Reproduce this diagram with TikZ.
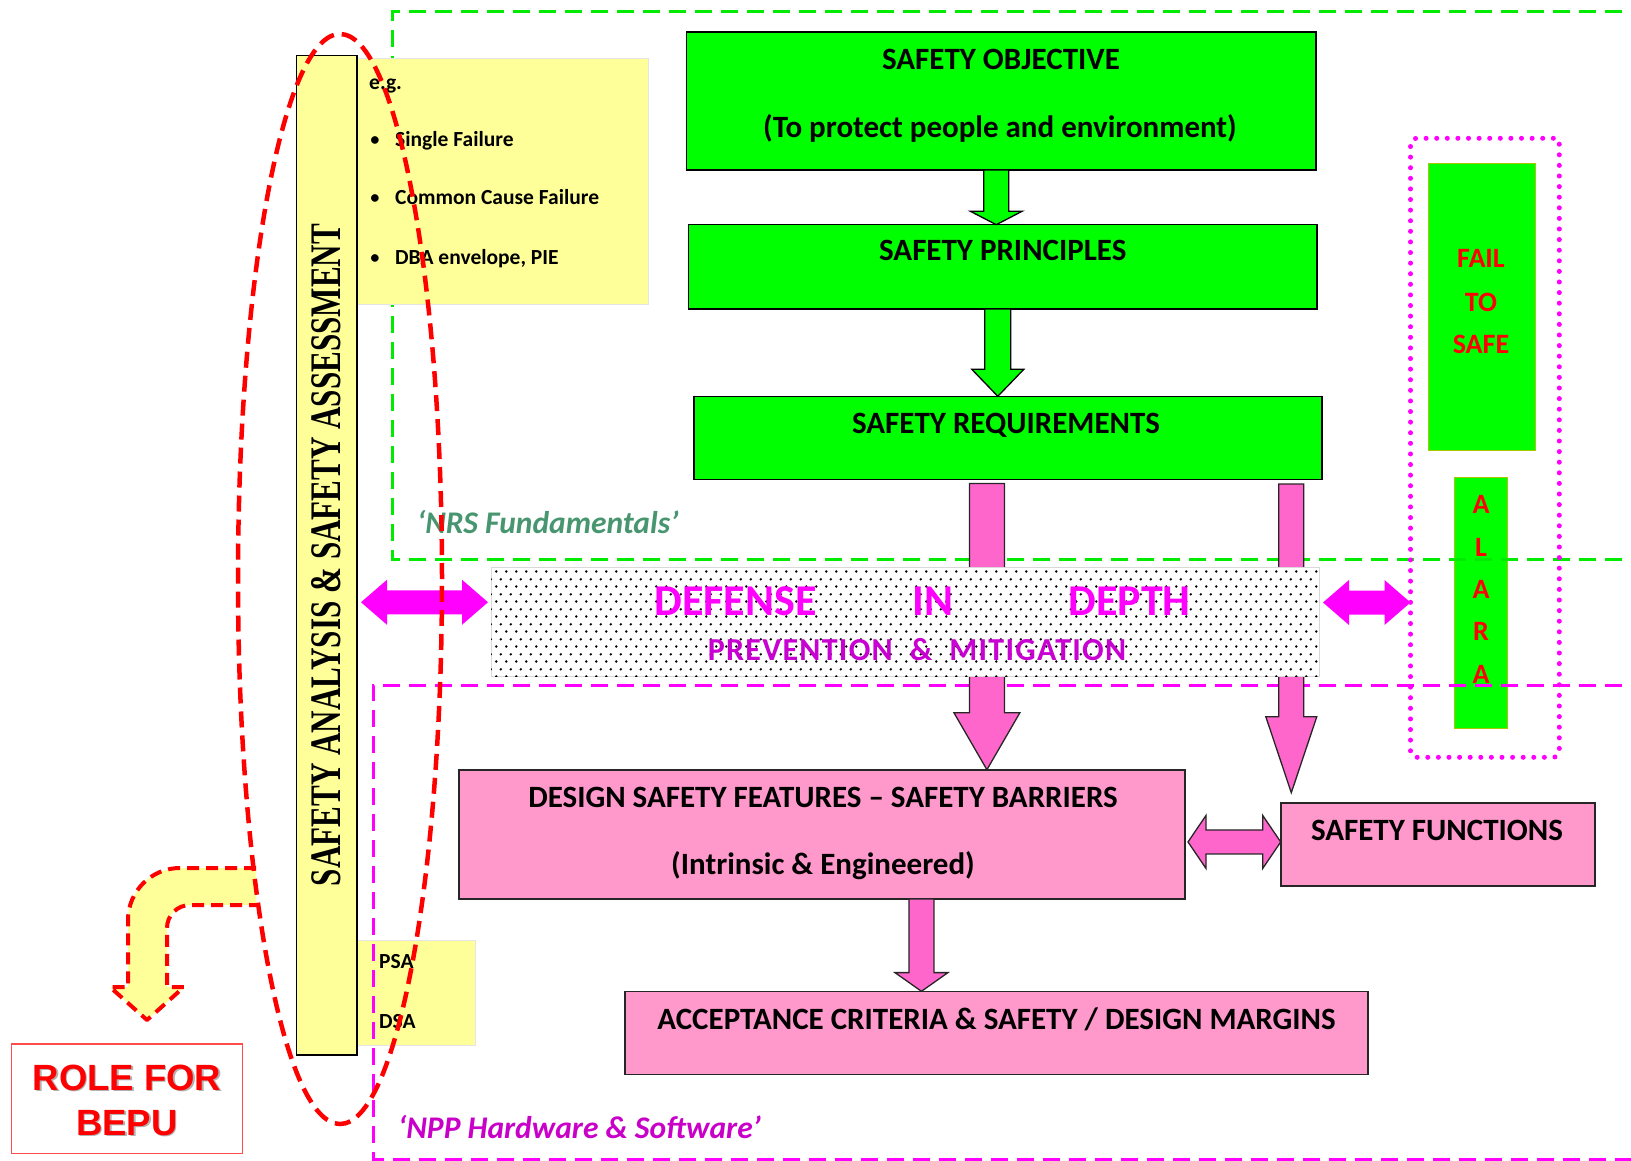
\documentclass[tikz,border=0pt]{standalone}
\usepackage{graphicx}
\usepackage{fontspec}
\setmainfont{Carlito}
\newfontfamily\timesf{Liberation Serif}
\newfontfamily\arialf{Liberation Sans}
\usetikzlibrary{calc,patterns,shapes.geometric}

\definecolor{brightgreen}{RGB}{0,255,0}
\definecolor{pinkfill}{RGB}{255,153,204}
\definecolor{pinkarrow}{RGB}{255,102,204}
\definecolor{mag}{RGB}{255,0,255}
\definecolor{paleyellow}{RGB}{255,255,153}
\definecolor{purplemag}{RGB}{200,0,210}
\definecolor{nrsgreen}{RGB}{72,150,112}
\definecolor{nppmag}{RGB}{200,0,200}
\definecolor{boxred}{RGB}{255,0,0}
\definecolor{sideborder}{RGB}{170,200,0}

% stippled fill of the defence-in-depth band
\pgfdeclarepatternformonly{didots}{\pgfpointorigin}{\pgfqpoint{9.5pt}{14.6pt}}{\pgfqpoint{9.5pt}{14.6pt}}{%
  \pgfpathcircle{\pgfqpoint{2.4pt}{3.65pt}}{1.4pt}%
  \pgfpathcircle{\pgfqpoint{7.15pt}{10.95pt}}{1.4pt}%
  \pgfusepath{fill}}

% rectangle node from its corners: name, style, x1, y1, x2, y2
\newcommand\rbox[6]{\node[#2, inner sep=0pt, outer sep=0pt,
  minimum width={(#5-#3)*1pt}, minimum height={(#6-#4)*1pt}]
  (#1) at ({(#3+#5)/2},{(#4+#6)/2}) {};}

% downward block arrow: style, start, end, shaft half width, head half width, head length
\newcommand\downblock[6]{%
  \path[#1] let \p1=#2, \p2=#3 in
    (\x1-#4pt,\y1) -- (\x1-#4pt,\y2+#6pt) -- (\x1-#5pt,\y2+#6pt) -- (\x1,\y2)
    -- (\x1+#5pt,\y2+#6pt) -- (\x1+#4pt,\y2+#6pt) -- (\x1+#4pt,\y1) -- cycle;}

% horizontal two-headed block arrow: style, left tip, right tip, shaft half, head half, head length
\newcommand\dblblock[6]{%
  \path[#1] let \p1=#2, \p2=#3 in
    (\x1,\y1) -- (\x1+#6pt,\y1+#5pt) -- (\x1+#6pt,\y1+#4pt) -- (\x2-#6pt,\y1+#4pt)
    -- (\x2-#6pt,\y1+#5pt) -- (\x2,\y1) -- (\x2-#6pt,\y1-#5pt) -- (\x2-#6pt,\y1-#4pt)
    -- (\x1+#6pt,\y1-#4pt) -- (\x1+#6pt,\y1-#5pt) -- cycle;}

\begin{document}
\begin{tikzpicture}[x=1pt,y=-1pt,
  gbox/.style={draw=black, line width=1.6pt, fill=brightgreen},
  pbox/.style={draw=black!85, line width=1.6pt, fill=pinkfill},
  ybox/.style={fill=paleyellow, draw=black!10, line width=0.8pt},
  sabox/.style={fill=paleyellow, draw=black, line width=1.6pt},
  greenside/.style={fill=brightgreen, draw=sideborder, line width=1pt},
  didbox/.style={fill=white, draw=black!15, line width=0.6pt, postaction={pattern=didots, pattern color=black}},
  dotframe/.style={draw=mag, line width=5pt, dash pattern=on 0pt off 10.6pt, line cap=round, rounded corners=6pt},
  rolebox/.style={draw=boxred!70, line width=1.3pt},
  gdash/.style={draw=brightgreen!92!black, line width=3pt, dash pattern=on 17pt off 9pt},
  mdash/.style={draw=mag, line width=3pt, dash pattern=on 17pt off 9pt},
  reddash/.style={draw=red, line width=4.5pt, dash pattern=on 16pt off 8pt},
  garrow/.style={fill=brightgreen, draw=black, line width=1.3pt},
  parrow/.style={fill=pinkarrow, draw=black!85, line width=1.3pt},
  marrow/.style={fill=mag},
  lbl/.style={font=\fontsize{31}{37}\selectfont\bfseries, anchor=base, inner sep=0pt},
  egt/.style={font=\fontsize{21.5}{26}\selectfont\bfseries, anchor=base west, inner sep=0pt},
  bul/.style={font=\fontsize{21.5}{26}\selectfont, anchor=base, inner sep=0pt},
  redlbl/.style={text=boxred, font=\fontsize{28}{30}\selectfont\bfseries, anchor=base, inner sep=0pt},
  didbig/.style={text=mag, font=\fontsize{44}{48}\selectfont\bfseries, anchor=base, inner sep=0pt},
  didsmall/.style={text=purplemag, font=\fontsize{32}{36}\selectfont\bfseries\addfontfeature{LetterSpace=4}, anchor=base, inner sep=0pt},
  frametxt/.style={font=\fontsize{31.5}{35}\selectfont\bfseries\itshape, anchor=base west, inner sep=0pt},
  rolet/.style={font=\arialf\bfseries\fontsize{36.5}{40}\selectfont, anchor=base, inner sep=0pt, text=boxred}]

\useasboundingbox (0,0) rectangle (1631,1161);
\clip (0,0) rectangle (1631,1161);

% side columns: fail to safe, ALARA
\rbox{fts}{greenside}{1428}{163.3}{1535.3}{450.4}
\rbox{alara}{greenside}{1454.2}{477.5}{1507.3}{728}

% fundamentals frame and example box
\draw[gdash] (1700,11.4) -- (392.5,11.4) -- (392.5,559.3) -- (1700,559.3);
\rbox{eg}{ybox}{357}{58}{648}{304}
\rbox{psa}{ybox}{357}{940}{475.4}{1045}
% hardware and software frame
\draw[mdash] (1700,685) -- (373.3,685) -- (373.3,1159) -- (1700,1159);

% main boxes
\rbox{so}{gbox}{686.5}{32.2}{1316}{170}
\rbox{sp}{gbox}{688.6}{224.7}{1317}{309}
\rbox{sr}{gbox}{693.8}{396.3}{1322}{479.5}
\rbox{dsf}{pbox}{458.7}{769.7}{1185}{899}
\rbox{sf}{pbox}{1280.7}{802.7}{1595}{886}
\rbox{ac}{pbox}{625}{991.3}{1368}{1074.5}
\rbox{sa}{sabox}{296.5}{55.5}{357}{1055}

% flow arrows
\downblock{garrow}{($(so.south)+(-5,0)$)}{(sp.north)}{12.5}{26}{13.5}
\downblock{garrow}{($(sp.south)+(-5,0)$)}{(sr.north)}{13}{26}{27}
\downblock{parrow}{($(sr.south)+(-21,4)$)}{(dsf.north)}{17.5}{33}{57}
\downblock{parrow}{($(sr.south)+(283.4,4.5)$)}{($(sf.north)+(0,-10)$)}{12.5}{25.5}{76}
\downblock{parrow}{($(dsf.south)+(99.6,0)$)}{(ac.north)}{12.5}{26.5}{18.7}

% defence in depth band
\rbox{did}{didbox}{491}{567}{1319}{676}
\node[didbig] (d1) at (735.5,615) {DEFENSE};
\node[didbig] (d2) at (933,615) {IN};
\node[didbig] (d3) at (1129.5,615) {DEPTH};
\node[didsmall] (pm) at (917,660) {PREVENTION \ \& \ MITIGATION};

% dotted frame on the right
\rbox{dotbox}{dotframe}{1410.5}{138.3}{1559.3}{757.3}

% two-headed arrows
\dblblock{marrow}{($(sa.east)+(4,47)$)}{($(did.west)+(-3,0)$)}{12}{22.5}{26}
\dblblock{marrow}{($(did.east)+(4,-19)$)}{(dotbox.west)}{12}{22.5}{26}
\dblblock{parrow}{($(dsf.east)+(3,7.6)$)}{(sf.west)}{12}{26.5}{18}

% box texts
\node[lbl] (sot) at (1001,70) {SAFETY OBJECTIVE};
\node[lbl] (sosub) at (1000,138) {(To protect people and environment)};
\node[lbl] (spt) at (1002.8,261) {SAFETY PRINCIPLES};
\node[lbl] (srt) at (1006,433) {SAFETY REQUIREMENTS};
\node[lbl] (dsft) at (823,807) {DESIGN SAFETY FEATURES \textendash{} SAFETY BARRIERS};
\node[lbl] (dsfsub) at (823,874) {(Intrinsic \& Engineered)};
\node[lbl] (sft) at (1437,840) {SAFETY FUNCTIONS};
\node[lbl] (act) at (996.5,1029.6) {ACCEPTANCE CRITERIA \& SAFETY / DESIGN MARGINS};

\node[egt] (egl) at (369,90) {e.g.};
\node[bul] (b1) at (375,146.7) {\textbullet};
\node[egt] (eg1) at (395,146.7) {Single Failure};
\node[bul] (b2) at (375,205) {\textbullet};
\node[egt] (eg2) at (395,205) {Common Cause Failure};
\node[bul] (b3) at (375,265) {\textbullet};
\node[egt] (eg3) at (395,265) {DBA envelope, PIE};
\node[egt] (psat) at (379,968.3) {PSA};
\node[egt] (dsat) at (379,1028.3) {DSA};

\node[redlbl] (f1) at (1481,268) {FAIL};
\node[redlbl] (f2) at (1481,311.7) {TO};
\node[redlbl] (f3) at (1481,353.3) {SAFE};
\node[redlbl] (a1) at (1481,513.5) {A};
\node[redlbl] (a2) at (1481,556) {L};
\node[redlbl] (a3) at (1481,598.8) {A};
\node[redlbl] (a4) at (1481,640.4) {R};
\node[redlbl] (a5) at (1481,683) {A};

\node[frametxt, text=nrsgreen] (nrs) at (417,533) {‘NRS Fundamentals’};
\node[frametxt, text=nppmag] (npp) at (398,1138) {‘NPP Hardware \& Software’};

\node[rotate=90, inner sep=0pt] (sat) at (326.5,555)
  {\resizebox{662pt}{29pt}{\timesf\bfseries SAFETY ANALYSIS \& SAFETY ASSESSMENT}};

% curved pointer towards BEPU
\fill[paleyellow] (256,868) -- (180,868) arc[start angle=90,end angle=180,radius=52pt]
  -- (128,987) -- (110,987) -- (147,1020) -- (184,987) -- (167,987) -- (167,928)
  arc[start angle=180,end angle=90,radius=23pt] -- (256,905) -- cycle;
\draw[reddash, line width=4pt, dash pattern=on 12pt off 7pt, line join=round]
  (256,868) -- (180,868) arc[start angle=90,end angle=180,radius=52pt]
  -- (128,987) -- (110,987) -- (147,1020) -- (184,987) -- (167,987) -- (167,928)
  arc[start angle=180,end angle=90,radius=23pt] -- (256,905);

% ring round the safety analysis column
\node[reddash, ellipse, inner sep=0pt, minimum width=204pt, minimum height=1090pt] (saring) at (340,579) {};

% BEPU label
\rbox{role}{rolebox}{11.4}{1044}{242.6}{1153.5}
\node[rolet, text=black!30] (rs1) at (128.5,1091.5) {ROLE FOR};
\node[rolet, text=black!30] (rs2) at (128.5,1136.5) {BEPU};
\node[rolet] (r1) at (127,1090) {ROLE FOR};
\node[rolet] (r2) at (127,1135) {BEPU};

\end{tikzpicture}
\end{document}
